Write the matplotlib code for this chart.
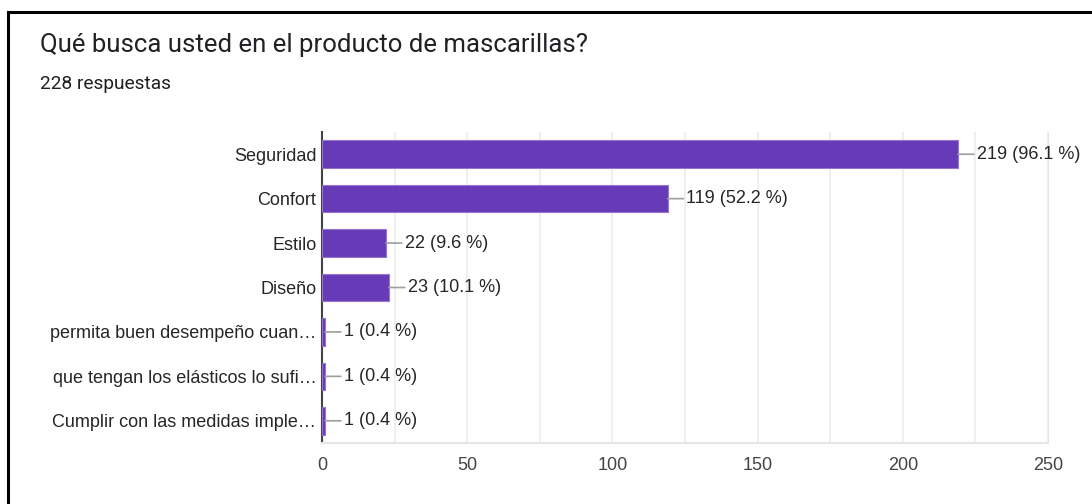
import matplotlib.pyplot as plt
from matplotlib.lines import Line2D

categorias = [
    "Seguridad",
    "Confort",
    "Estilo",
    "Diseño",
    "permita buen desempeño cuan…",
    "que tengan los elásticos lo sufi…",
    "Cumplir con las medidas imple…",
]
respuestas = [219, 119, 22, 23, 1, 1, 1]
porcentajes = [96.1, 52.2, 9.6, 10.1, 0.4, 0.4, 0.4]
total = 228
ticks_x = [0, 50, 100, 150, 200, 250]

morado = "#673ab7"
texto = "#262626"

fig = plt.figure(figsize=(10.92, 5.04), dpi=100)
ax = fig.add_axes([322 / 1092, 1 - 443 / 504, 726 / 1092, 311 / 504])

y = list(range(len(categorias)))
ax.barh(y, respuestas, height=0.62, color=morado, edgecolor="#9575cd",
        linewidth=0.8, zorder=3)

for i, (v, p) in enumerate(zip(respuestas, porcentajes)):
    ax.annotate(f"{v} ({p} %)", xy=(v, i), xytext=(13.5, 0),
                textcoords="offset points", ha="left", va="center",
                fontsize=13, color=texto, family="Liberation Sans",
                arrowprops=dict(arrowstyle="-", color="#9e9e9e", lw=1.2,
                                shrinkA=0, shrinkB=0),
                annotation_clip=False)

ax.set_ylim(len(categorias) - 0.5, -0.5)
ax.set_xlim(0, 250)
ax.set_yticks(y)
ax.set_yticklabels(categorias, fontsize=13, color=texto, family="Liberation Sans")
ax.set_xticks(ticks_x)
ax.set_xticklabels([str(t) for t in ticks_x], fontsize=13, color="#444444",
                   family="Liberation Sans")
ax.set_xticks(range(0, 251, 25), minor=True)
ax.tick_params(axis="both", which="both", length=0, pad=4)
ax.tick_params(axis="x", pad=10)
ax.grid(axis="x", which="both", color="#ececec", lw=1.2, zorder=0)

ax.spines["top"].set_visible(False)
ax.spines["right"].set_color("#e6e6e6")
ax.spines["bottom"].set_color("#e6e6e6")
ax.spines["bottom"].set_linewidth(1.5)
ax.spines["left"].set_color("#444444")
ax.spines["left"].set_linewidth(1.5)

fig.text(40 / 1092, 1 - 45 / 504, "Qué busca usted en el producto de mascarillas?",
         fontsize=18.5, family="Roboto", color="#202124", va="center")
fig.text(40 / 1092, 1 - 84 / 504, f"{total} respuestas", fontsize=13.8,
         family="Roboto", color="#202124", va="center")

# marco negro del recuadro
fig.add_artist(Line2D([8 / 1092, 1], [1 - 12 / 504, 1 - 12 / 504],
                      color="black", lw=2.2))
fig.add_artist(Line2D([8 / 1092, 8 / 1092], [0, 1 - 12 / 504],
                      color="black", lw=2.2))

fig.savefig("out.png", dpi=100)
